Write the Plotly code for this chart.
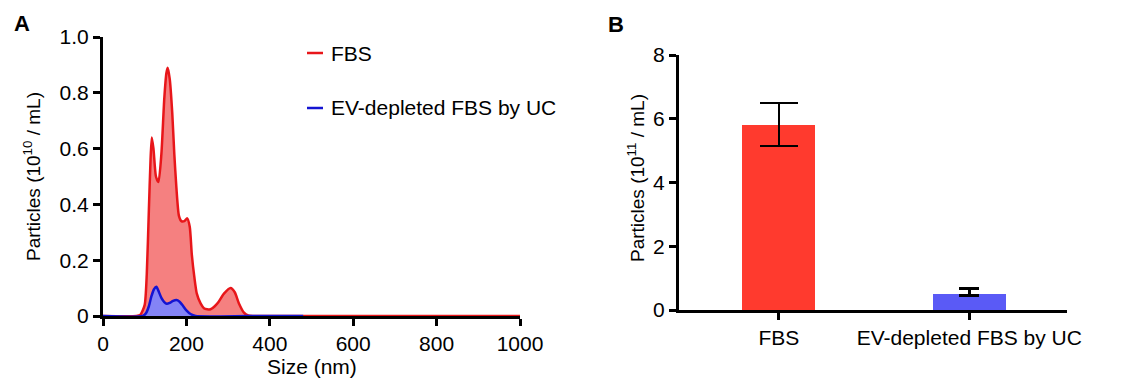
import plotly.graph_objects as go

# Panel A: size distribution (nm vs particles 10^10/mL)
fbs_size = [0, 80, 90, 100, 105, 110, 114, 117, 121, 127, 133, 140, 147, 152, 155, 160, 166, 171, 176,
            182, 188, 195, 202, 208, 213, 219, 225, 234, 242, 250, 258, 268, 277, 290, 306, 316, 326,
            338, 348, 360, 500, 700, 1000]
fbs_conc = [0, 0, 0.005, 0.04, 0.15, 0.38, 0.56, 0.64, 0.60, 0.50, 0.48, 0.58, 0.78, 0.87, 0.89, 0.85,
            0.73, 0.58, 0.46, 0.36, 0.34, 0.34, 0.35, 0.32, 0.22, 0.14, 0.08, 0.045, 0.028, 0.024, 0.024,
            0.035, 0.05, 0.08, 0.10, 0.085, 0.045, 0.012, 0.002, 0, 0, 0, 0]
ev_size = [0, 95, 103, 110, 116, 122, 128, 133, 140, 147, 153, 160, 168, 176, 183, 190, 200, 210,
           222, 350, 480]
ev_conc = [0, 0, 0.01, 0.035, 0.07, 0.095, 0.105, 0.09, 0.065, 0.05, 0.044, 0.047, 0.054, 0.057,
           0.052, 0.04, 0.02, 0.007, 0, 0, 0]

# Panel B: total particles (10^11/mL)
categories = ["FBS", "EV-depleted FBS by UC"]
totals = [5.8, 0.5]
err_plus = [0.7, 0.17]
err_minus = [0.66, 0.04]

W, H = 1121, 381
px = lambda x: x / W
py = lambda y: 1 - y / H

FONT = "Liberation Sans, Arial, sans-serif"
FS = 21
RED_LINE = "#e8161a"
RED_FILL = "#f58080"
BLUE_LINE = "#1414d2"
BLUE_FILL = "#8484f6"
BAR_COLORS = ["#ff3a2e", "#5a5af6"]
CAP_W = [19, 10]

fig = go.Figure()

fig.add_trace(go.Scatter(x=fbs_size, y=fbs_conc, mode="lines",
                         line=dict(color=RED_LINE, width=2.5, shape="spline", smoothing=0.6),
                         fill="tozeroy", fillcolor=RED_FILL, cliponaxis=False, showlegend=False,
                         xaxis="x", yaxis="y"))
fig.add_trace(go.Scatter(x=ev_size, y=ev_conc, mode="lines",
                         line=dict(color=BLUE_LINE, width=2.5, shape="spline", smoothing=0.6),
                         fill="tozeroy", fillcolor=BLUE_FILL, cliponaxis=False, showlegend=False,
                         xaxis="x", yaxis="y"))

for i in range(len(categories)):
    fig.add_trace(go.Bar(x=[categories[i]], y=[totals[i]],
                         marker=dict(color=BAR_COLORS[i], line=dict(width=0)),
                         width=0.382, showlegend=False,
                         error_y=dict(type="data", array=[err_plus[i]], arrayminus=[err_minus[i]],
                                      color="black", thickness=2.5, width=CAP_W[i]),
                         xaxis="x2", yaxis="y2"))

axis_common = dict(showline=True, linecolor="black", linewidth=3, ticks="outside", ticklen=7,
                   tickwidth=3, tickcolor="black", showgrid=False, zeroline=False, automargin=False,
                   tickfont=dict(family=FONT, size=FS, color="black"), layer="below traces")

fig.update_layout(
    width=W, height=H, margin=dict(l=0, r=0, t=0, b=0),
    paper_bgcolor="white", plot_bgcolor="white",
    bargap=0,
    xaxis=dict(domain=[px(103), px(520)], range=[0, 1000], tickvals=[0, 200, 400, 600, 800, 1000],
               anchor="y", **axis_common),
    yaxis=dict(domain=[py(316), py(37)], range=[0, 1], tickvals=[0, 0.2, 0.4, 0.6, 0.8, 1.0],
               ticktext=["0", "0.2", "0.4", "0.6", "0.8", "1.0"], anchor="x", **axis_common),
    xaxis2=dict(domain=[px(679), px(1067)], range=[-0.524, 1.513], type="category",
                anchor="y2", **axis_common),
    yaxis2=dict(domain=[py(310), py(55)], range=[0, 8], tickvals=[0, 2, 4, 6, 8],
                anchor="x2", **axis_common),
)

ann = []
def text(x, y, s, size=FS, bold=False, angle=0, xanchor="center"):
    ann.append(dict(x=px(x), y=py(y), xref="paper", yref="paper", text=(f"<b>{s}</b>" if bold else s),
                    showarrow=False, textangle=angle, xanchor=xanchor, yanchor="middle",
                    font=dict(family=FONT, size=size, color="black")))

text(22, 23, "A", size=22, bold=True)
text(616, 24, "B", size=22, bold=True)
text(312, 366, "Size (nm)")
text(32, 177, "Particles (10<sup>10</sup> / mL)", size=19, angle=-90)
text(636, 178, "Particles (10<sup>11</sup> / mL)", size=19, angle=-90)
text(329, 53, "FBS", xanchor="left")
text(329, 108, "EV-depleted FBS by UC", xanchor="left")
fig.update_layout(annotations=ann)

fig.add_shape(type="line", xref="paper", yref="paper", x0=px(307), x1=px(323), y0=py(53), y1=py(53),
              line=dict(color=RED_LINE, width=2.5))
fig.add_shape(type="line", xref="paper", yref="paper", x0=px(307), x1=px(323), y0=py(108), y1=py(108),
              line=dict(color=BLUE_LINE, width=2.5))

fig.write_html("out.html", config={"displayModeBar": False},
               post_script="document.body.style.margin='0px';document.body.style.overflow='hidden';")
